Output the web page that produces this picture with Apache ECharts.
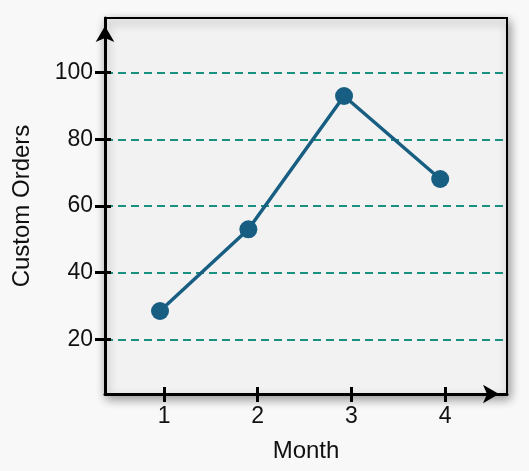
<!DOCTYPE html>
<html lang="en">
<head>
    <meta charset="UTF-8">
    <title>Custom Orders</title>
    <script src="https://cdn.jsdelivr.net/npm/echarts@6/dist/echarts.min.js"></script>
    <style>
        html, body { margin: 0; padding: 0; background: #f8f8f8; }
        #chart { width: 529px; height: 471px; }
    </style>
</head>
<body>
<div id="chart"></div>
<script>
    // values
    const monthTicks = [1, 2, 3, 4];
    const pointX = [0.957, 1.9, 2.921, 3.947];
    const orders = [28.5, 53.0, 93.0, 68.1];
    const orderTicks = [20, 40, 60, 80, 100];

    const font = 'Liberation Sans, Arial, sans-serif';
    let myChart = echarts.init(document.getElementById('chart'));

    let seriesData = [];
    for (let i = 0; i < pointX.length; i++) {
        seriesData.push([pointX[i], orders[i]]);
    }

    let option = {
        backgroundColor: '#f8f8f8',
        animation: false,
        grid: {
            left: 105, right: 22, top: 18, bottom: 77,
            show: true,
            backgroundColor: '#f2f2f2',
            borderColor: '#000',
            borderWidth: 2,
            shadowColor: 'rgba(0,0,0,0.4)',
            shadowBlur: 10,
            shadowOffsetX: 2,
            shadowOffsetY: 4
        },
        xAxis: [{
            type: 'value', min: 0.37, max: 4.66,
            name: 'Month', nameLocation: 'middle', nameGap: 45,
            nameTextStyle: { fontFamily: font, fontSize: 24, color: '#111' },
            axisLine: {
                show: true, symbol: ['none', 'arrow'], symbolSize: [14, 16], symbolOffset: [0, -8],
                lineStyle: { color: '#000', width: 3 }
            },
            axisTick: { show: true, customValues: monthTicks, length: 8, lineStyle: { color: '#000', width: 3 } },
            axisLabel: { customValues: monthTicks, fontFamily: font, fontSize: 23, color: '#111', margin: 11 },
            splitLine: { show: false }
        }, {
            // inner half of the ticks
            type: 'value', min: 0.37, max: 4.66, position: 'bottom', offset: -7,
            axisLine: { show: false },
            axisTick: { show: true, customValues: monthTicks, length: 15, lineStyle: { color: '#000', width: 3 } },
            axisLabel: { show: false },
            splitLine: { show: false }
        }],
        yAxis: [{
            type: 'value', min: 3.6, max: 116.4,
            name: 'Custom Orders', nameLocation: 'middle', nameGap: 71,
            nameTextStyle: { fontFamily: font, fontSize: 24, color: '#111' },
            axisLine: {
                show: true, symbol: ['none', 'arrow'], symbolSize: [14, 16], symbolOffset: [0, -8],
                lineStyle: { color: '#000', width: 3 }
            },
            axisTick: { show: true, customValues: orderTicks, length: 10, lineStyle: { color: '#000', width: 3 } },
            axisLabel: { customValues: orderTicks, fontFamily: font, fontSize: 23, color: '#111', margin: 12 },
            splitLine: {
                show: true,
                lineStyle: { color: '#1a9080', width: 2, type: [8, 5] }
            }
        }, {
            type: 'value', min: 3.6, max: 116.4, position: 'left', offset: -6,
            axisLine: { show: false },
            axisTick: { show: true, customValues: orderTicks, length: 16, lineStyle: { color: '#000', width: 3 } },
            axisLabel: { show: false },
            splitLine: { show: false }
        }],
        series: [{
            type: 'line',
            data: seriesData,
            symbol: 'circle',
            symbolSize: 18,
            lineStyle: { color: '#175e82', width: 3.5 },
            itemStyle: { color: '#175e82' }
        }]
    };
    myChart.setOption(option);
</script>
</body>
</html>
